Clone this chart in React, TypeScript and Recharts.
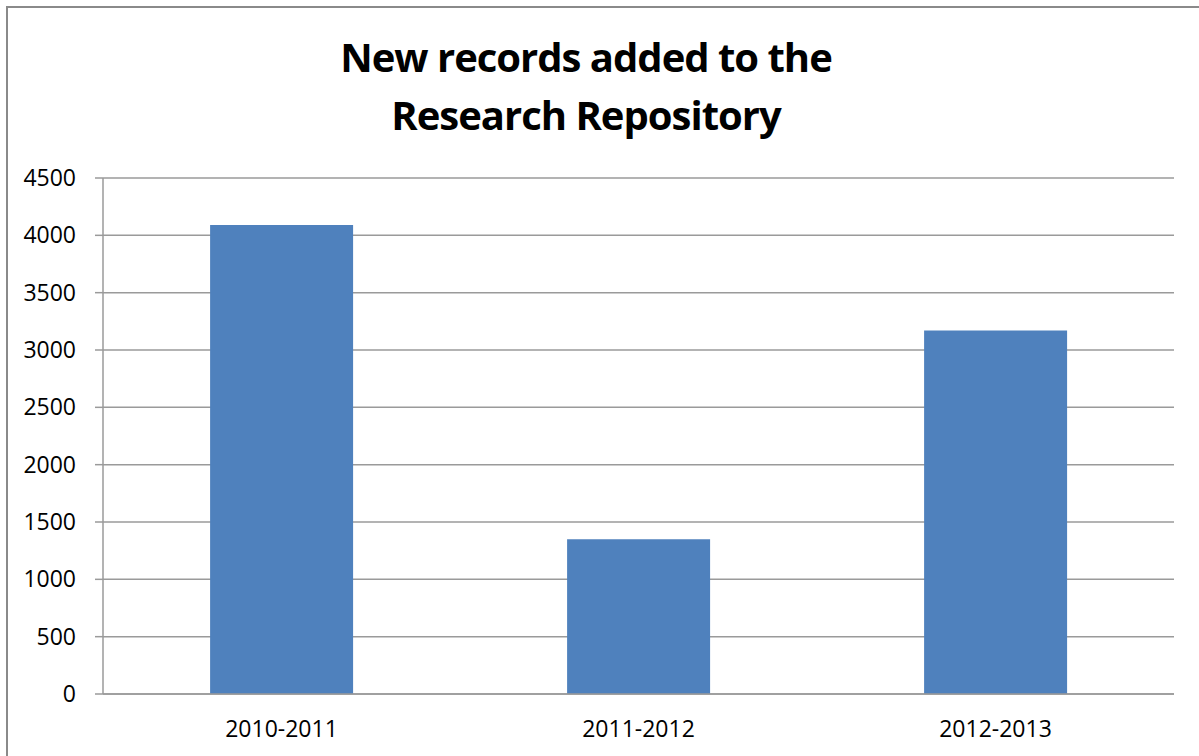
import React from "react";
import { BarChart, Bar, XAxis, YAxis, CartesianGrid } from "recharts";

const categories = ["2010-2011", "2011-2012", "2012-2013"];
const newRecords = [4090, 1350, 3170];
const yTicks = [0, 500, 1000, 1500, 2000, 2500, 3000, 3500, 4000, 4500];
const edgeTicks = [0, 1, 2, 3];
const titleLines = ["New records added to the", "Research Repository"];

const data = categories.map((c, i) => ({ period: c, records: newRecords[i] }));

const FONT = "'Open Sans', 'Liberation Sans', sans-serif";
const GRID = "#9a9a9a";

export default function App() {
  return (
    <div
      style={{
        position: "fixed",
        left: 0,
        top: 0,
        width: 1199,
        height: 756,
        overflow: "hidden",
        background: "#fff",
        fontFamily: FONT,
      }}
    >
      <div
        style={{
          position: "absolute",
          left: 6,
          top: 6,
          width: 1300,
          height: 900,
          borderLeft: "2px solid #8a8a8a",
          borderTop: "2px solid #8a8a8a",
        }}
      />
      <svg
        width={1199}
        height={160}
        style={{ position: "absolute", left: 0, top: 0 }}
      >
        {titleLines.map((t, i) => (
          <text
            key={i}
            x={586}
            y={72 + i * 58}
            textAnchor="middle"
            fontFamily={FONT}
            fontWeight={700}
            fontSize={40}
            letterSpacing={-1}
            fill="#000"
          >
            {t}
          </text>
        ))}
      </svg>
      <div style={{ position: "absolute", left: 0, top: 0 }}>
        <BarChart
          width={1199}
          height={756}
          data={data}
          margin={{ top: 178, right: 25, bottom: 0, left: 0 }}
          barCategoryGap="30%"
        >
          <CartesianGrid vertical={false} stroke={GRID} strokeWidth={1.5} />
          <XAxis
            xAxisId="edges"
            type="number"
            domain={[0, 3]}
            ticks={edgeTicks}
            height={0}
            axisLine={false}
            tickLine={{ stroke: GRID, strokeWidth: 1.5 }}
            tickSize={8}
            tick={() => <g />}
          />
          <XAxis
            dataKey="period"
            height={62}
            axisLine={{ stroke: GRID, strokeWidth: 1.5 }}
            tickLine={false}
            tickSize={8}
            tickMargin={19}
            tick={{ fill: "#000", fontSize: 23, fontFamily: FONT }}
            interval={0}
          />
          <YAxis
            width={103}
            domain={[0, 4500]}
            ticks={yTicks}
            axisLine={{ stroke: GRID, strokeWidth: 1.5 }}
            tickLine={{ stroke: GRID, strokeWidth: 1.5 }}
            tickSize={8}
            tickMargin={19}
            tick={{ fill: "#000", fontSize: 23, fontFamily: FONT }}
            interval={0}
          />
          <Bar
            dataKey="records"
            fill="#4F81BD"
            isAnimationActive={false}
          />
        </BarChart>
      </div>
    </div>
  );
}
